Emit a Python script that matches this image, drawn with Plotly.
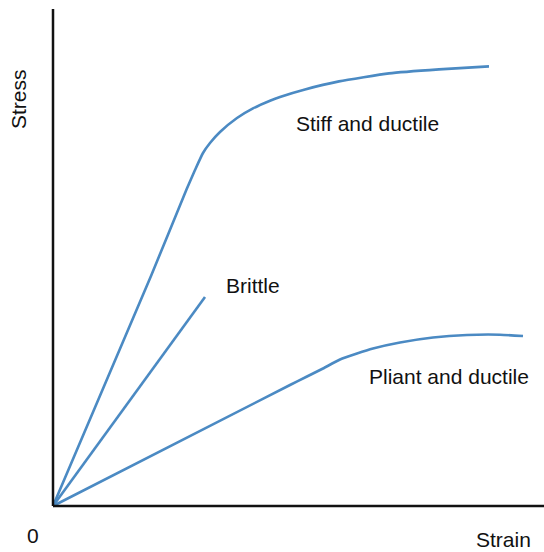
import plotly.graph_objects as go

# Data (strain, stress) in arbitrary units
stiff_strain = [0, 98, 133.7, 142, 150, 157, 167, 184, 200, 217, 227, 252, 286, 336, 386, 436]
stiff_stress = [0, 230, 317, 336, 353, 363, 374, 388, 397.6, 405.3, 409.1, 416.6, 424.6, 432.6, 436.6, 439.6]

brittle_strain = [0, 152]
brittle_stress = [0, 209]

pliant_strain = [0, 237, 254, 270, 287, 304, 320, 347, 380, 414, 447, 470]
pliant_stress = [0, 121, 129.5, 137.5, 146.5, 152.5, 157.5, 163.5, 168.5, 171, 171.3, 170]

labels = ["Stiff and ductile", "Brittle", "Pliant and ductile"]
label_x = [314.5, 200, 395.5]
label_y = [383, 221, 130]

color = "#4b8ac3"
font = dict(family="Liberation Sans, Arial, Helvetica, sans-serif", size=21, color="#111111")

fig = go.Figure()
for xs, ys in [(stiff_strain, stiff_stress), (brittle_strain, brittle_stress), (pliant_strain, pliant_stress)]:
    fig.add_trace(go.Scatter(x=xs, y=ys, mode="lines",
                             line=dict(color=color, width=2.6, shape="spline", smoothing=0.5),
                             hoverinfo="skip", showlegend=False))

for t, x, y in zip(labels, label_x, label_y):
    fig.add_annotation(x=x, y=y, text=t, showarrow=False, font=font, xanchor="center", yanchor="middle")

fig.add_annotation(x=-35, y=407, text="Stress", textangle=-90, showarrow=False, font=font)
fig.add_annotation(x=450, y=-46, text="Strain", showarrow=False, font=font,
                   yanchor="bottom", borderpad=0)
fig.add_annotation(x=-20, y=-29, text="0", showarrow=False, font=font)

# axis lines
fig.add_shape(type="line", x0=0, y0=0, x1=0, y1=497, line=dict(color="#111111", width=2.5))
fig.add_shape(type="line", x0=0, y0=0, x1=491, y1=0, line=dict(color="#111111", width=2.5))

fig.update_layout(
    width=544, height=552,
    margin=dict(l=0, r=0, t=0, b=0),
    paper_bgcolor="white", plot_bgcolor="white",
    xaxis=dict(range=[-53, 491], visible=False, fixedrange=True),
    yaxis=dict(range=[-46, 506], visible=False, fixedrange=True),
)
fig.write_html("out.html", config={"displayModeBar": False},
               post_script="document.body.style.margin='0';document.body.style.overflow='hidden';")
